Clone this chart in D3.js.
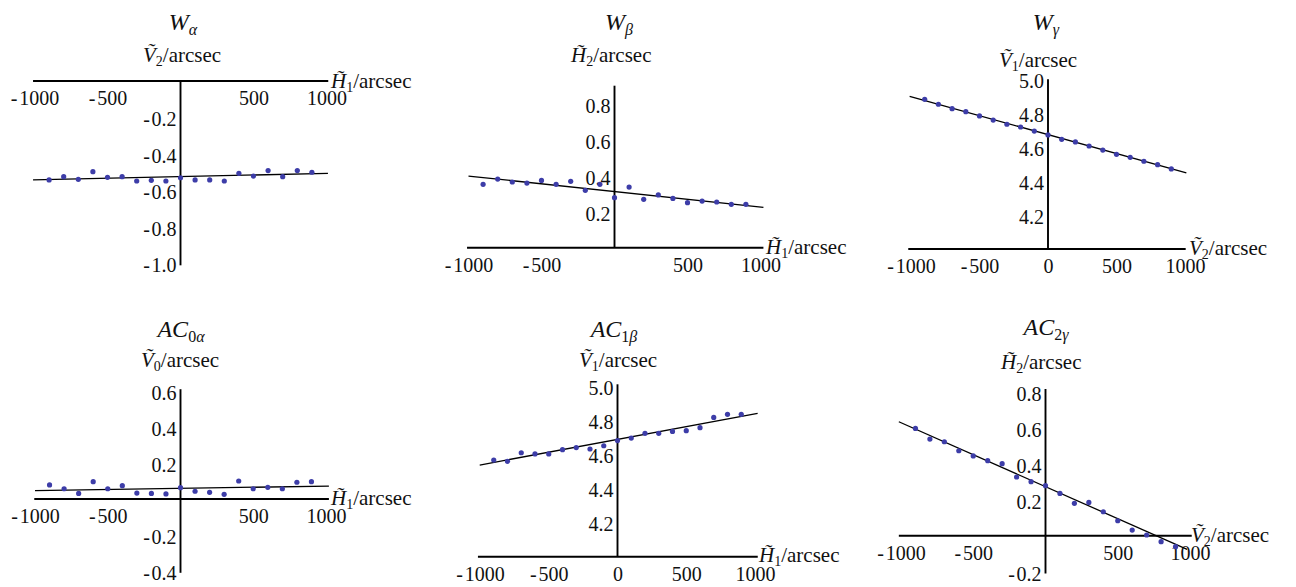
<!DOCTYPE html>
<html>
<head>
<meta charset="utf-8">
<script src="https://cdn.jsdelivr.net/npm/d3@7"></script>
<style>
  html, body { margin: 0; padding: 0; background: #fff; }
  svg { display: block; }
</style>
</head>
<body>
<svg id="chart" width="1296" height="587"></svg>
<script>
// ---------------- data ----------------
const xs = [-900, -800, -700, -600, -500, -400, -300, -200, -100, 0, 100, 200, 300, 400, 500, 600, 700, 800, 900];

const wAlpha   = [-0.542, -0.524, -0.539, -0.497, -0.528, -0.524, -0.548, -0.544, -0.548, -0.530, -0.542, -0.542, -0.548, -0.506, -0.521, -0.491, -0.524, -0.491, -0.500];
const wBeta    = [0.352, 0.381, 0.365, 0.359, 0.374, 0.352, 0.369, 0.319, 0.352, 0.278, 0.337, 0.269, 0.293, 0.274, 0.250, 0.259, 0.254, 0.241, 0.241];
const wGamma   = [4.882, 4.853, 4.827, 4.809, 4.784, 4.760, 4.735, 4.719, 4.695, 4.672, 4.646, 4.631, 4.607, 4.583, 4.558, 4.540, 4.517, 4.497, 4.472];
const ac0Alpha = [0.078, 0.057, 0.031, 0.096, 0.057, 0.074, 0.033, 0.031, 0.028, 0.063, 0.043, 0.037, 0.026, 0.100, 0.057, 0.065, 0.057, 0.093, 0.096];
const ac1Beta  = [4.566, 4.559, 4.609, 4.602, 4.602, 4.627, 4.639, 4.631, 4.650, 4.680, 4.695, 4.723, 4.723, 4.734, 4.738, 4.756, 4.816, 4.834, 4.834];
const ac2Gamma = [0.596, 0.537, 0.522, 0.472, 0.443, 0.417, 0.400, 0.326, 0.300, 0.278, 0.235, 0.180, 0.185, 0.133, 0.083, 0.031, 0.004, -0.033, -0.061];

// fitted lines: [x0, x1] and [y0, y1]
const fitWAlphaX = [-1010, 1010],  fitWAlphaY = [-0.542, -0.506];
const fitWBetaX  = [-1000, 1020],  fitWBetaY  = [0.398, 0.224];
const fitWGammaX = [-1010, 1010],  fitWGammaY = [4.900, 4.448];
const fitAC0X    = [-1000, 1020],  fitAC0Y    = [0.046, 0.072];
const fitAC1X    = [-1002, 1019],  fitAC1Y    = [4.537, 4.840];
const fitAC2X    = [-1015, 980],   fitAC2Y    = [0.633, -0.076];

// tick labels
const xTicksNoZero = [-1000, -500, 500, 1000];
const xTicksZero   = [-1000, -500, 0, 500, 1000];
const yTicksWAlpha = [-0.2, -0.4, -0.6, -0.8, -1.0];
const yTicksWBeta  = [0.2, 0.4, 0.6, 0.8];
const yTicksWGamma = [4.2, 4.4, 4.6, 4.8, 5.0];
const yTicksAC0    = [-0.4, -0.2, 0.2, 0.4, 0.6];
const yTicksAC1    = [4.2, 4.4, 4.6, 4.8, 5.0];
const yTicksAC2    = [-0.2, 0.2, 0.4, 0.6, 0.8];

// labels
const titles = [
  {main: "W",  sub: [{t: "α", it: true}]},
  {main: "W",  sub: [{t: "β", it: true}]},
  {main: "W",  sub: [{t: "γ", it: true}]},
  {main: "AC", sub: [{t: "0", it: false}, {t: "α", it: true}]},
  {main: "AC", sub: [{t: "1", it: false}, {t: "β", it: true}]},
  {main: "AC", sub: [{t: "2", it: false}, {t: "γ", it: true}]}
];
const yLabels = [["V", "2"], ["H", "2"], ["V", "1"], ["V", "0"], ["V", "1"], ["H", "2"]];
const xLabels = [["H", "1"], ["H", "1"], ["V", "2"], ["H", "1"], ["H", "1"], ["V", "2"]];

// ---------------- layout (pixels) ----------------
const panels = [
  {y: wAlpha,   fx: fitWAlphaX, fy: fitWAlphaY, xt: xTicksNoZero, yt: yTicksWAlpha,
   xr: [34.5, 326.5], yd: [-1, 0],   yr: [263.5, 81],   ax: [-1010, 1012], ay: [-1.01, 0],
   title: [183, 30], yl: [143, 62], xl: [331, 88]},
  {y: wBeta,    fx: fitWBetaX,  fy: fitWBetaY,  xt: xTicksNoZero, yt: yTicksWBeta,
   xr: [468.5, 760.5], yd: [0, 0.9], yr: [247.7, 85.7], ax: [-1010, 1020], ay: [0, 0.9],
   title: [619, 30], yl: [571, 62], xl: [766, 254]},
  {y: wGamma,   fx: fitWGammaX, fy: fitWGammaY, xt: xTicksZero,   yt: yTicksWGamma,
   xr: [911, 1185],    yd: [4, 5],   yr: [249, 79.3],   ax: [-1020, 1005], ay: [4, 5],
   title: [1046, 29.5], yl: [999, 67], xl: [1189, 255]},
  {y: ac0Alpha, fx: fitAC0X,    fy: fitAC0Y,    xt: xTicksNoZero, yt: yTicksAC0,
   xr: [35, 326],      yd: [-0.4, 0.6], yr: [571, 391], ax: [-1005, 1020], ay: [-0.41, 0.61],
   title: [181, 337], yl: [141, 367], xl: [331, 505]},
  {y: ac1Beta,  fx: fitAC1X,    fy: fitAC1Y,    xt: xTicksZero,   yt: yTicksAC1,
   xr: [480, 755],     yd: [4, 5],   yr: [556.7, 386],  ax: [-1015, 1020], ay: [4, 5.01],
   title: [614, 337], yl: [579, 367], xl: [759, 562]},
  {y: ac2Gamma, fx: fitAC2X,    fy: fitAC2Y,    xt: xTicksNoZero, yt: yTicksAC2,
   xr: [901, 1190],    yd: [-0.2, 0.8], yr: [571.7, 391.7], ax: [-1015, 1012], ay: [-0.21, 0.815],
   title: [1046, 335], yl: [1001, 369], xl: [1191, 542]}
];

const SERIF = '"Liberation Serif"';
const svg = d3.select("#chart");
const TICK_FS = 20, LABEL_FS = 21, TITLE_FS = 24;
const DOT = "#3d3da8";

function fmtNum(v, dec) {
  const s = Math.abs(v).toFixed(dec);
  return (v < 0 ? "-\u200A" : "") + s;
}

function varLabel(g, x, y, letter, sub) {
  const t = g.append("text").attr("x", x).attr("y", y)
    .style("font-family", SERIF).style("font-size", LABEL_FS + "px").attr("fill", "#111");
  t.append("tspan").style("font-style", "italic").text(letter + "\u0303");
  t.append("tspan").style("font-size", "14px").attr("dy", 4).text(sub);
  t.append("tspan").attr("dy", -4).text("/arcsec");
}

panels.forEach((p, i) => {
  const g = svg.append("g");
  const x = d3.scaleLinear().domain([-1000, 1000]).range(p.xr);
  const y = d3.scaleLinear().domain(p.yd).range(p.yr);

  const y0 = (p.yd[0] <= 0 && p.yd[1] >= 0) ? 0 : p.yd[0];
  g.append("line")
    .attr("x1", x(p.ax[0])).attr("x2", x(p.ax[1]))
    .attr("y1", y(y0)).attr("y2", y(y0))
    .attr("stroke", "#000").attr("stroke-width", 1.9);
  g.append("line")
    .attr("x1", x(0)).attr("x2", x(0))
    .attr("y1", y(p.ay[0])).attr("y2", y(p.ay[1]))
    .attr("stroke", "#000").attr("stroke-width", 1.9);

  const xa = g.append("g").attr("transform", `translate(0,${y(y0)})`)
    .call(d3.axisBottom(x).tickValues(p.xt).tickSize(0).tickPadding(10)
      .tickFormat(d => fmtNum(d, 0)));
  xa.select(".domain").remove();
  xa.selectAll("text").style("font-family", SERIF).style("font-size", TICK_FS + "px").attr("fill", "#111");

  const ya = g.append("g").attr("transform", `translate(${x(0)},0)`)
    .call(d3.axisLeft(y).tickValues(p.yt).tickSize(0).tickPadding(4)
      .tickFormat(d => fmtNum(d, 1)));
  ya.select(".domain").remove();
  ya.selectAll("text").style("font-family", SERIF).style("font-size", TICK_FS + "px")
    .attr("dy", "0.42em").attr("fill", "#111");

  g.append("path")
    .datum(d3.zip(p.fx, p.fy))
    .attr("d", d3.line().x(d => x(d[0])).y(d => y(d[1])))
    .attr("fill", "none").attr("stroke", "#000").attr("stroke-width", 1.3);

  g.selectAll("circle.pt").data(d3.zip(xs, p.y)).enter().append("circle")
    .attr("class", "pt")
    .attr("cx", d => x(d[0])).attr("cy", d => y(d[1])).attr("r", 2.6)
    .attr("fill", DOT);

  const tt = titles[i];
  const t = g.append("text").attr("x", p.title[0]).attr("y", p.title[1])
    .attr("text-anchor", "middle").attr("fill", "#111")
    .style("font-family", SERIF).style("font-size", TITLE_FS + "px").style("font-style", "italic");
  t.append("tspan").text(tt.main);
  tt.sub.forEach((s, k) => {
    t.append("tspan").style("font-size", "16px").attr("dy", k === 0 ? 5 : 0)
      .style("font-style", s.it ? "italic" : "normal").text(s.t);
  });

  varLabel(g, p.yl[0], p.yl[1], yLabels[i][0], yLabels[i][1]);
  varLabel(g, p.xl[0], p.xl[1], xLabels[i][0], xLabels[i][1]);
});
</script>
</body>
</html>
